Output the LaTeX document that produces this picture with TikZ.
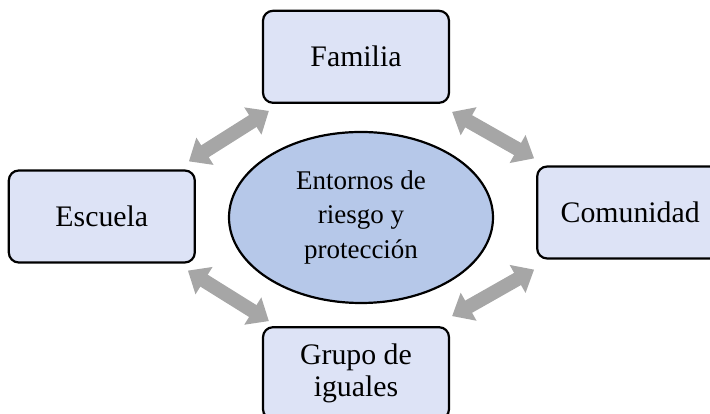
\documentclass[tikz,border=0pt]{standalone}
\usepackage{fontspec}
\setmainfont{Liberation Serif}
\usetikzlibrary{positioning,arrows.meta,shapes.geometric}

\definecolor{cajafill}{RGB}{221,227,246}
\definecolor{centrofill}{RGB}{182,200,233}
\definecolor{flechagris}{RGB}{166,166,166}

\tikzset{
  caja/.style={draw=black, line width=2.2pt, rounded corners=10pt, fill=cajafill,
    minimum width=186pt, minimum height=92pt, align=center,
    font=\fontsize{29.8}{32}\selectfont},
  centro/.style={ellipse, draw=black, line width=2.2pt, fill=centrofill,
    minimum width=264pt, minimum height=171pt, inner sep=0pt, align=center,
    font=\fontsize{27}{34.5}\selectfont},
  flecha/.style={draw=flechagris, line width=14pt,
    {Triangle[length=19pt,width=31pt]}-{Triangle[length=19pt,width=31pt]}},
}

\begin{document}
\begin{tikzpicture}[x=1pt,y=1pt]

  \useasboundingbox (0,0) rectangle (710,414);
  \clip (0,0) rectangle (710,414);

  % centre
  \node[centro] (entornos) at (361,196.5) {Entornos de\\riesgo y\\protección}; %

  % environments
  \node[caja, above=27pt of entornos, xshift=-5pt] (familia) {Familia}; %
  \node[caja, left=32pt of entornos, yshift=1pt] (escuela) {Escuela}; %
  \node[caja, right=42pt of entornos, yshift=5pt] (comunidad) {Comunidad}; %
  \node[caja, below=22pt of entornos, xshift=-5pt] (grupo) {Grupo de\\iguales}; %

  % arrow ends
  \coordinate (ul-a) at ([shift={(-7,8)}]escuela.north east); %
  \coordinate (ul-b) at ([shift={(7,-7)}]familia.south west); %
  \coordinate (ur-a) at ([shift={(2,-8)}]familia.south east); %
  \coordinate (ur-b) at ([shift={(-2,7)}]comunidad.north west); %
  \coordinate (ll-a) at ([shift={(-8,-7)}]escuela.south east); %
  \coordinate (ll-b) at ([shift={(7,5)}]grupo.north west); %
  \coordinate (lr-a) at ([shift={(2,10)}]grupo.north east); %
  \coordinate (lr-b) at ([shift={(-2,-10)}]comunidad.south west); %

  % arrows
  \draw[flecha] (ul-a) -- (ul-b); %
  \draw[flecha] (ur-a) -- (ur-b); %
  \draw[flecha] (ll-a) -- (ll-b); %
  \draw[flecha] (lr-a) -- (lr-b); %

\end{tikzpicture}
\end{document}
